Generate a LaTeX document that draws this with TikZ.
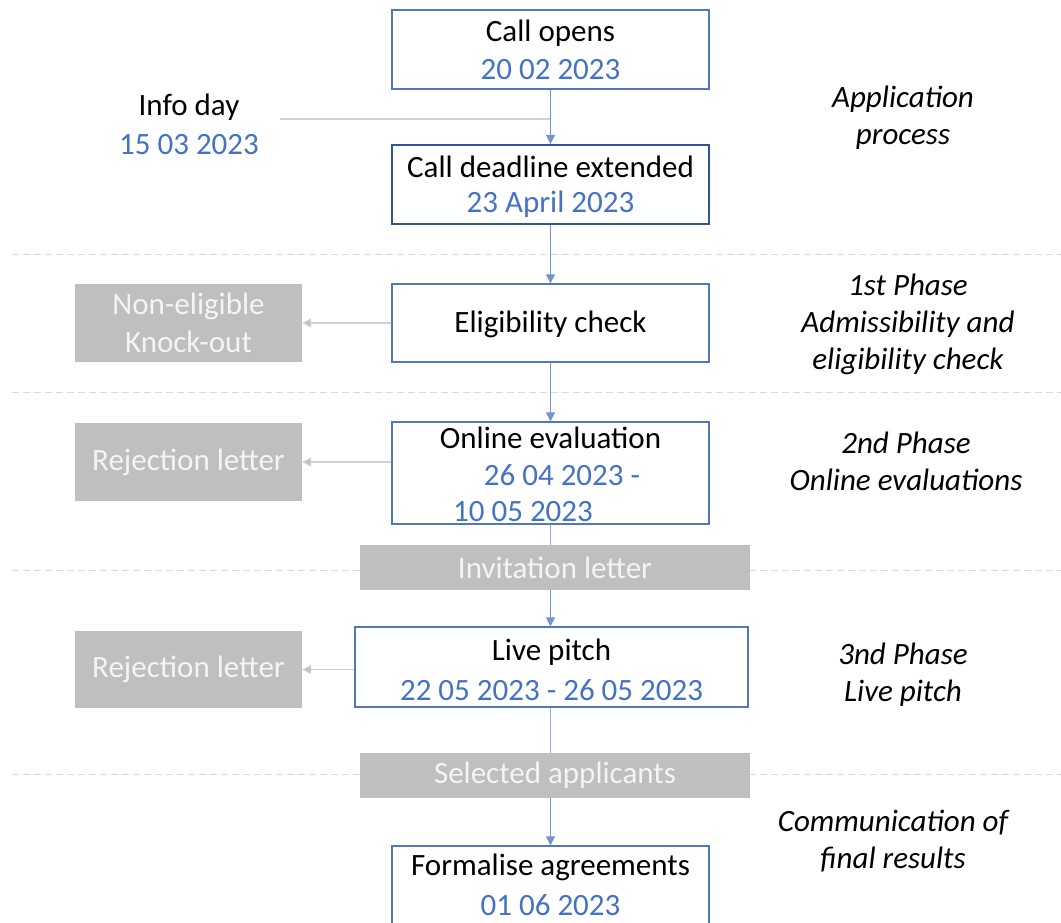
\documentclass[tikz,border=0pt]{standalone}
\usepackage{fontspec}
\setmainfont{Carlito}
\usetikzlibrary{arrows.meta}
\definecolor{dateblue}{HTML}{4472C4}
\definecolor{boxblue}{HTML}{4F78C0}
\definecolor{darkblue}{HTML}{2F5597}
\definecolor{greybox}{HTML}{BFBFBF}
\definecolor{greytext}{HTML}{F4F4F4}
\definecolor{sepgrey}{HTML}{D9D9D9}
\definecolor{linegrey}{HTML}{D0D0D0}
\tikzset{
  txt/.style={font=\fontsize{31}{38}\selectfont, inner sep=0pt, align=center},
  stagebox/.style={draw=boxblue, line width=1.4pt, fill=white, inner sep=0pt},
  greyrect/.style={fill=greybox, draw=none, inner sep=0pt, text=greytext, font=\fontsize{31}{38}\selectfont, align=center},
  phase/.style={font=\fontsize{31}{37}\selectfont\itshape, inner sep=0pt, align=center},
  sep/.style={draw=sepgrey, line width=1pt, dash pattern=on 7pt off 4pt},
  flow/.style={draw=boxblue!80, line width=1.3pt, -{Triangle[width=9pt,length=9pt]}},
  flowline/.style={draw=boxblue!60, line width=1.3pt},
  side/.style={draw=linegrey, line width=1.3pt, -{Triangle[width=9pt,length=9pt,fill=greybox]}, color=linegrey},
}
\newcommand{\dt}[1]{\textcolor{dateblue}{#1}}
\begin{document}
\begin{tikzpicture}[x=1pt,y=-1pt]
\useasboundingbox (0,0) rectangle (1061,922);
% separators
\draw[sep] (12,254) -- (1061,254);
\draw[sep] (12,392) -- (1061,392);
\draw[sep] (12,570) -- (1061,570);
\draw[sep] (12,774) -- (1061,774);

% main stages
\node[stagebox, minimum width=317pt, minimum height=79pt] (opens) at (550.5,49.5) {};
\node[txt] (opensT) at (550.5,33) {Call opens};
\node[txt] (opensD) at (550.5,70) {\dt{20 02 2023}};

\node[stagebox, draw=darkblue, line width=2.2pt, minimum width=317pt, minimum height=79pt] (deadline) at (550.5,184.5) {};
\node[txt] (deadT) at (550.5,167) {Call deadline extended};
\node[txt] (deadD) at (550.5,204) {\dt{23 April 2023}};

\node[stagebox, minimum width=317pt, minimum height=78pt] (elig) at (550.5,323) {};
\node[txt] (eligT) at (550.5,324) {Eligibility check};

\node[stagebox, minimum width=317pt, minimum height=102pt] (online) at (550.5,473) {};
\node[txt] (onT) at (550.5,438) {Online evaluation};
\node[txt] (onD1) at (562,475) {\dt{26 04 2023 -}};
\node[txt] (onD2) at (523,512) {\dt{10 05 2023}};

\node[greyrect, minimum width=390pt, minimum height=45pt] (invite) at (555,567.5) {Invitation letter};

\node[stagebox, minimum width=393pt, minimum height=80pt] (live) at (551.5,667) {};
\node[txt] (liveT) at (551.5,652) {Live pitch};
\node[txt] (liveD) at (551.5,690) {\dt{22 05 2023 - 26 05 2023}};

\node[greyrect, minimum width=390pt, minimum height=45pt] (selected) at (555,775.5) {Selected applicants};

\node[stagebox, minimum width=317pt, minimum height=100pt] (formal) at (550.5,896) {};
\node[txt] (formT) at (550.5,867) {Formalise agreements};
\node[txt] (formD) at (550.5,905) {\dt{01 06 2023}};

% info day
\node[txt] (infoT) at (189,107) {Info day};
\node[txt] (infoD) at (189,145) {\dt{15 03 2023}};
\coordinate (infoend) at (280,119);
\draw[draw=linegrey, line width=1.3pt] (infoend) -- (opens.south |- infoend);

% grey outcome boxes
\node[greyrect, minimum width=227pt, minimum height=78pt] (knock) at (188.5,323) {Non-eligible\\Knock-out};
\node[greyrect, minimum width=227pt, minimum height=78pt] (rej1) at (188.5,462) {Rejection letter};
\node[greyrect, minimum width=227pt, minimum height=77pt] (rej2) at (188.5,669.5) {Rejection letter};

% flow connectors
\draw[flow] (opens.south) -- (deadline.north);
\draw[flow] (deadline.south) -- (elig.north);
\draw[flow] (elig.south) -- (online.north);
\draw[flowline] (online.south) -- (online.south |- invite.north);
\draw[flow] (online.south |- invite.south) -- (live.north -| online.south);
\draw[flowline] (live.south -| online.south) -- (online.south |- selected.north);
\draw[flow] (online.south |- selected.south) -- (formal.north);

% side connectors
\draw[side] (elig.west) -- (knock.east);
\draw[side] (online.west |- rej1.east) -- (rej1.east);
\draw[side] (live.west |- rej2.east) -- (rej2.east);

% phase labels
\node[phase] (ph0) at (903,118) {Application\\process};
\node[phase] (ph1) at (908,324) {1st Phase\\Admissibility and\\eligibility check};
\node[phase] (ph2) at (906,461) {2nd Phase\\Online evaluations};
\node[phase] (ph3) at (903,675) {3nd Phase\\Live pitch};
\node[phase] (ph4) at (893,841) {Communication of\\final results};
\end{tikzpicture}
\end{document}
